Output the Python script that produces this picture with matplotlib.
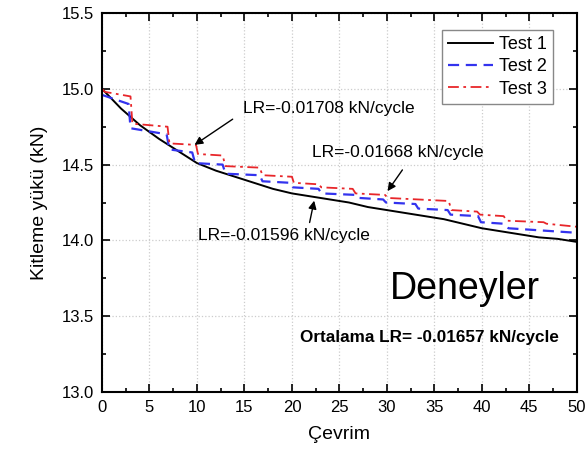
import matplotlib.pyplot as plt
from matplotlib.ticker import MultipleLocator

plt.rcParams['font.family'] = ['Liberation Sans', 'DejaVu Sans']

# Test 1 - smooth curve
t1_x = [0, 2, 4, 6, 8, 10, 12, 14, 16, 18, 20, 22, 24, 26, 28, 30,
        32, 34, 36, 38, 40, 42, 44, 46, 48, 50]
t1_y = [15.00, 14.87, 14.76, 14.67, 14.59, 14.51, 14.46, 14.42, 14.38, 14.34,
        14.31, 14.29, 14.27, 14.25, 14.22, 14.20, 14.18, 14.16, 14.14, 14.11,
        14.08, 14.06, 14.04, 14.02, 14.01, 13.99]

# Test 2 - staircase
t2_x = [0, 2.8, 3.0, 6.8, 7.1, 9.5, 9.8, 12.7, 13.0, 16.6, 16.9, 19.8, 20.1,
        22.8, 23.1, 26.8, 27.1, 29.6, 29.9, 33.0, 33.3, 36.4, 36.7, 39.6, 39.9,
        42.3, 42.8, 50]
t2_y = [14.96, 14.90, 14.74, 14.70, 14.60, 14.58, 14.51, 14.50, 14.44, 14.43,
        14.39, 14.38, 14.35, 14.34, 14.31, 14.30, 14.28, 14.27, 14.25, 14.24,
        14.21, 14.20, 14.17, 14.16, 14.12, 14.11, 14.08, 14.05]

# Test 3 - staircase
t3_x = [0, 0.3, 3.0, 3.2, 6.9, 7.1, 9.9, 10.1, 12.7, 13.0, 16.6, 16.9, 20.0,
        20.2, 22.8, 23.1, 26.4, 26.7, 29.8, 30.1, 36.5, 36.8, 39.5, 39.8,
        42.3, 42.6, 46.5, 46.8, 50]
t3_y = [15.00, 14.98, 14.95, 14.77, 14.75, 14.64, 14.63, 14.57, 14.56, 14.49,
        14.48, 14.43, 14.42, 14.38, 14.37, 14.35, 14.34, 14.31, 14.30, 14.28,
        14.26, 14.20, 14.19, 14.17, 14.16, 14.13, 14.12, 14.11, 14.09]

fig = plt.figure(figsize=(5.88, 4.5), dpi=100)
ax = fig.add_axes([0.1735, 0.129, 0.8075, 0.842])

ax.plot(t1_x, t1_y, color='black', lw=1.4, label='Test 1')
ax.plot(t2_x, t2_y, color='#3333ee', lw=1.6, ls=(0, (5, 3)), label='Test 2')
ax.plot(t3_x, t3_y, color='#e8262a', lw=1.3, ls=(0, (6, 2.5, 1.5, 2.5)), label='Test 3')

ax.set_xlim(0, 50)
ax.set_ylim(13.0, 15.5)
ax.xaxis.set_major_locator(MultipleLocator(5))
ax.xaxis.set_minor_locator(MultipleLocator(2.5))
ax.yaxis.set_major_locator(MultipleLocator(0.5))
ax.yaxis.set_minor_locator(MultipleLocator(0.25))
ax.tick_params(which='both', direction='in', top=True, right=True, width=1.2,
               labelsize=12, pad=6)
ax.tick_params(which='major', length=6)
ax.tick_params(which='minor', length=3)
ax.grid(True, which='major', ls=':', color='#cccccc', lw=0.9)
for s in ax.spines.values():
    s.set_linewidth(1.5)

ax.set_xlabel('Çevrim', fontsize=14, labelpad=8)
ax.set_ylabel('Kitleme yükü (kN)', fontsize=14, labelpad=10)

leg = ax.legend(loc='upper right', bbox_to_anchor=(0.95, 0.955), fontsize=13,
                handlelength=2.5, fancybox=False, framealpha=1,
                edgecolor='#888888', borderaxespad=0, labelspacing=0.28,
                handletextpad=0.3, borderpad=0.35)

arrow = dict(arrowstyle='-|>', color='black', lw=1.0, mutation_scale=12)
ax.text(14.8, 14.87, 'LR=-0.01708 kN/cycle', fontsize=12.5, va='center', ha='left')
ax.annotate('', xy=(9.5, 14.62), xytext=(14.0, 14.81), arrowprops=arrow)
ax.text(22.1, 14.58, 'LR=-0.01668 kN/cycle', fontsize=12.5, va='center', ha='left')
ax.annotate('', xy=(29.9, 14.31), xytext=(31.8, 14.48), arrowprops=arrow)
ax.text(10.1, 14.03, 'LR=-0.01596 kN/cycle', fontsize=12.5, va='center', ha='left')
ax.annotate('', xy=(22.4, 14.28), xytext=(21.8, 14.10), arrowprops=arrow)

ax.text(38.2, 13.68, 'Deneyler', fontsize=27, ha='center', va='center')
ax.text(34.5, 13.36, 'Ortalama LR= -0.01657 kN/cycle', fontsize=12.3,
        fontweight='bold', ha='center', va='center')

fig.savefig('out.png', dpi=100)
